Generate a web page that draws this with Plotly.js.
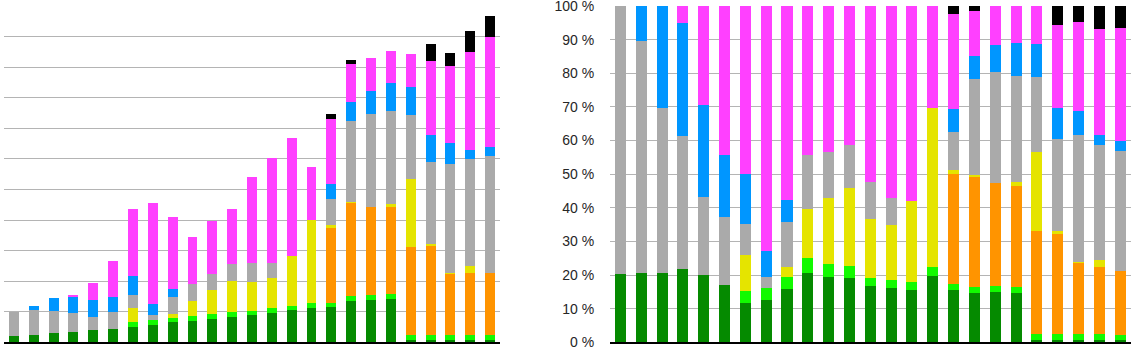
<!DOCTYPE html>
<html><head><meta charset="utf-8">
<script src="https://cdn.plot.ly/plotly-3.0.1.min.js"></script>
<style>html,body{margin:0;padding:0;background:#fff}#chart{width:1137px;height:350px}</style>
</head><body><div id="chart"></div>
<script>
// Categories (no visible labels in the reference)
const categories = ["1","2","3","4","5","6","7","8","9","10","11","12","13","14","15","16","17","18","19","20","21","22","23","24","25"];

// Series values (absolute units; one gridline = 10 units), stacked bottom to top
const darkGreen  = [2.0, 2.45, 3.0, 3.4, 3.9, 4.5, 5.1, 5.75, 6.5, 7.1, 7.7, 8.4, 9.0, 9.7, 10.45, 11.3, 11.6, 13.6, 13.9, 14.1, 0.7, 0.7, 0.7, 0.7, 0.7];
const lightGreen = [0, 0, 0, 0, 0, 0, 1.6, 1.6, 1.45, 1.55, 1.55, 1.5, 1.35, 1.45, 1.55, 1.55, 1.25, 1.6, 1.6, 1.6, 1.7, 1.7, 1.65, 1.75, 1.65];
const orange     = [0, 0, 0, 0, 0, 0, 0, 0, 0, 0, 0, 0, 0, 0, 0, 0, 24.6, 30.35, 28.6, 28.6, 28.8, 29.0, 19.95, 20.3, 20.3];
const yellow     = [0, 0, 0, 0, 0, 0, 4.6, 0, 1.25, 5.0, 7.75, 10.15, 9.5, 9.9, 16.1, 27.2, 0.9, 0.5, 0, 1.0, 22.3, 0.9, 0.35, 2.25, 0];
const gray       = [7.9, 8.2, 7.1, 6.1, 4.5, 5.4, 4.1, 1.5, 5.5, 5.55, 5.5, 5.55, 5.95, 4.85, 0, 0, 8.5, 26.3, 30.6, 30.2, 20.9, 26.8, 35.6, 34.9, 38.2];
const blue       = [0, 1.25, 4.4, 5.2, 5.3, 4.9, 6.4, 3.55, 2.65, 0, 0, 0, 0, 0, 0, 0, 4.9, 6.3, 7.6, 9.2, 9.2, 8.8, 7.0, 3.0, 3.05];
const magenta    = [0, 0, 0, 0.8, 5.7, 11.8, 21.8, 33.2, 23.65, 15.3, 17.2, 18.0, 28.3, 34.4, 38.8, 17.35, 21.3, 12.4, 10.8, 10.6, 10.8, 24.2, 25.0, 32.1, 36.0];
const black      = [0, 0, 0, 0, 0, 0, 0, 0, 0, 0, 0, 0, 0, 0, 0, 0, 1.7, 1.35, 0, 0, 0, 5.5, 4.45, 6.9, 6.9];

// Right panel tick labels
const pctTickVals = [0, 10, 20, 30, 40, 50, 60, 70, 80, 90, 100];
const pctTickText = ["0 %", "10 %", "20 %", "30 %", "40 %", "50 %", "60 %", "70 %", "80 %", "90 %", "100 %"];

const series = [
  {name: "dark green",  values: darkGreen,  color: "#058a00"},
  {name: "light green", values: lightGreen, color: "#12fa00"},
  {name: "orange",      values: orange,     color: "#ff9400"},
  {name: "yellow",      values: yellow,     color: "#e5e400"},
  {name: "gray",        values: gray,       color: "#aaaaaa"},
  {name: "blue",        values: blue,       color: "#0096ff"},
  {name: "magenta",     values: magenta,    color: "#ff40ff"},
  {name: "black",       values: black,      color: "#000000"}
];

const totals = categories.map((c, i) => series.reduce((s, ser) => s + ser.values[i], 0));

const traces = [];
series.forEach(ser => {
  traces.push({
    type: "bar", name: ser.name, x: categories, y: ser.values,
    xaxis: "x", yaxis: "y", width: 0.5,
    marker: {color: ser.color, line: {width: 0}}, showlegend: false, hoverinfo: "skip"
  });
});
series.forEach(ser => {
  traces.push({
    type: "bar", name: ser.name, x: categories,
    y: ser.values.map((v, i) => v / totals[i] * 100),
    xaxis: "x2", yaxis: "y2", width: 0.53,
    marker: {color: ser.color, line: {width: 0}}, showlegend: false, hoverinfo: "skip"
  });
});

const W = 1137, H = 350;
const yDom = [(H - 342.3) / H, (H - 6) / H];
const gridColor = "#b4b4b4";

const layout = {
  width: W, height: H,
  margin: {l: 0, r: 0, t: 0, b: 0, pad: 0},
  paper_bgcolor: "#ffffff", plot_bgcolor: "#ffffff",
  barmode: "stack",
  font: {family: "Liberation Sans, Arial, sans-serif", size: 14, color: "#262626"},
  xaxis: {
    domain: [4 / W, 500 / W], type: "category", showticklabels: false, ticks: "",
    showgrid: false, zeroline: false, showline: true, linecolor: "#000000", linewidth: 1.5,
    fixedrange: true
  },
  yaxis: {
    domain: yDom, range: [0, 110], dtick: 10, tick0: 0, showticklabels: false, ticks: "",
    showgrid: true, gridcolor: gridColor, gridwidth: 1, zeroline: false, showline: false,
    fixedrange: true
  },
  xaxis2: {
    domain: [610 / W, 1130.6 / W], type: "category", showticklabels: false, ticks: "",
    showgrid: false, zeroline: false, showline: true, linecolor: "#000000", linewidth: 1.5,
    anchor: "y2", fixedrange: true
  },
  yaxis2: {
    domain: yDom, range: [0, 100], tickmode: "array", tickvals: pctTickVals, ticktext: pctTickText,
    ticks: "outside", ticklen: 12, tickcolor: "rgba(0,0,0,0)", ticklabeloverflow: "allow",
    showgrid: true, gridcolor: gridColor, gridwidth: 1, zeroline: false, showline: false,
    anchor: "x2", tickfont: {size: 14, color: "#262626"}, fixedrange: true
  }
};

Plotly.newPlot("chart", traces, layout, {staticPlot: true, displayModeBar: false});
</script>
</body></html>
